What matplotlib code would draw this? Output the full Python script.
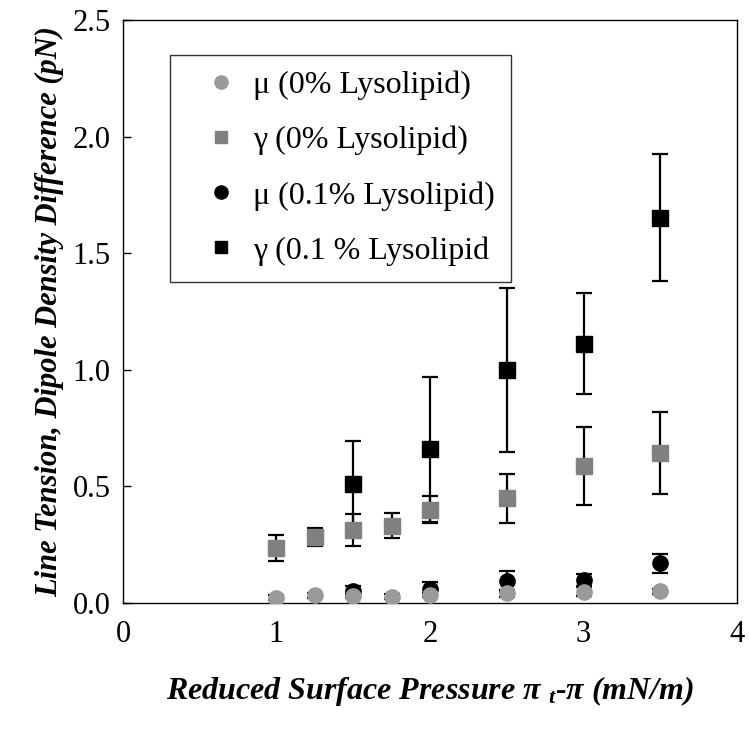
import numpy as np
import matplotlib.pyplot as plt

plt.rcParams['font.family'] = ['Liberation Serif', 'DejaVu Serif']
plt.rcParams['mathtext.fontset'] = 'custom'
plt.rcParams['mathtext.it'] = 'Liberation Serif:italic:bold'
plt.rcParams['mathtext.rm'] = 'Liberation Serif:italic:bold'

# 0% lysolipid
x_mu0 = [1.0, 1.25, 1.5, 1.75, 2.0, 2.5, 3.0, 3.5]
mu0 = [0.023, 0.033, 0.03, 0.027, 0.035, 0.042, 0.048, 0.05]
mu0_err = [0.01, 0.01, 0.01, 0.01, 0.01, 0.015, 0.02, 0.01]
x_g0 = [1.0, 1.25, 1.5, 1.75, 2.0, 2.5, 3.0, 3.5]
g0 = [0.235, 0.283, 0.313, 0.332, 0.40, 0.449, 0.586, 0.642]
g0_err = [0.055, 0.038, 0.067, 0.055, 0.058, 0.105, 0.167, 0.176]

# 0.1% lysolipid
x_mu1 = [1.5, 2.0, 2.5, 3.0, 3.5]
mu1 = [0.052, 0.06, 0.094, 0.10, 0.17]
mu1_err = [0.02, 0.03, 0.045, 0.025, 0.04]
x_g1 = [1.5, 2.0, 2.5, 3.0, 3.5]
g1 = [0.509, 0.659, 0.999, 1.112, 1.652]
g1_err = [0.186, 0.31, 0.35, 0.217, 0.273]

labels = ['μ (0% Lysolipid)', 'γ (0% Lysolipid)',
          'μ (0.1% Lysolipid)', 'γ (0.1 % Lysolipid']

fig = plt.figure(figsize=(7.49, 7.29), dpi=100)
ax = fig.add_axes([0.1642, 0.1728, 0.8198, 0.7998])

ekw = dict(ecolor='black', elinewidth=1.6, capsize=6, capthick=1.6, linestyle='none')

# black series first, grey drawn on top (as in the original)
ax.errorbar(x_g1, g1, yerr=g1_err, fmt='s', color='black', ms=11.5, zorder=2, **ekw)
ax.errorbar(x_mu1, mu1, yerr=mu1_err, fmt='o', color='black', ms=11, zorder=2, **ekw)
ax.errorbar(x_g0, g0, yerr=g0_err, fmt='s', color='#808080', ms=11.5, zorder=3, **ekw)
ax.errorbar(x_mu0, mu0, yerr=mu0_err, fmt='o', color='#9a9a9a', ms=11, zorder=3, **ekw)

ax.set_xlim(0, 4)
ax.set_ylim(0, 2.5)
ax.set_xticks([0, 1, 2, 3, 4])
ax.set_yticks([0, 0.5, 1.0, 1.5, 2.0, 2.5])
ax.set_yticklabels(['0.0', '0.5', '1.0', '1.5', '2.0', '2.5'])
ax.tick_params(axis='y', direction='in', length=6, width=1, pad=9, labelsize=22)
ax.tick_params(axis='x', length=0, pad=12, labelsize=22)
for s in ax.spines.values():
    s.set_linewidth(1.0)

ax.set_ylabel('Line Tension, Dipole Density Difference (pN)',
              fontsize=22, fontweight='bold', fontstyle='italic', labelpad=6)
ax.set_xlabel(r'Reduced Surface Pressure π $_{t}$-π (mN/m)',
              fontsize=23, fontweight='bold', fontstyle='italic', labelpad=18)

# legend with plain markers (no error bars)
lh = [ax.plot([], [], 'o', color='#9a9a9a', ms=9.5)[0],
      ax.plot([], [], 's', color='#808080', ms=9)[0],
      ax.plot([], [], 'o', color='black', ms=9.5)[0],
      ax.plot([], [], 's', color='black', ms=9)[0]]
leg = ax.legend(lh, labels, loc='upper left', bbox_to_anchor=(0.077, 0.94),
                fontsize=23, frameon=True, fancybox=False, edgecolor='black',
                handletextpad=-0.05, labelspacing=0.8, borderpad=0.5,
                handlelength=2.15, borderaxespad=0)
leg.get_frame().set_linewidth(1.0)

fig.savefig('out.png', dpi=100)
